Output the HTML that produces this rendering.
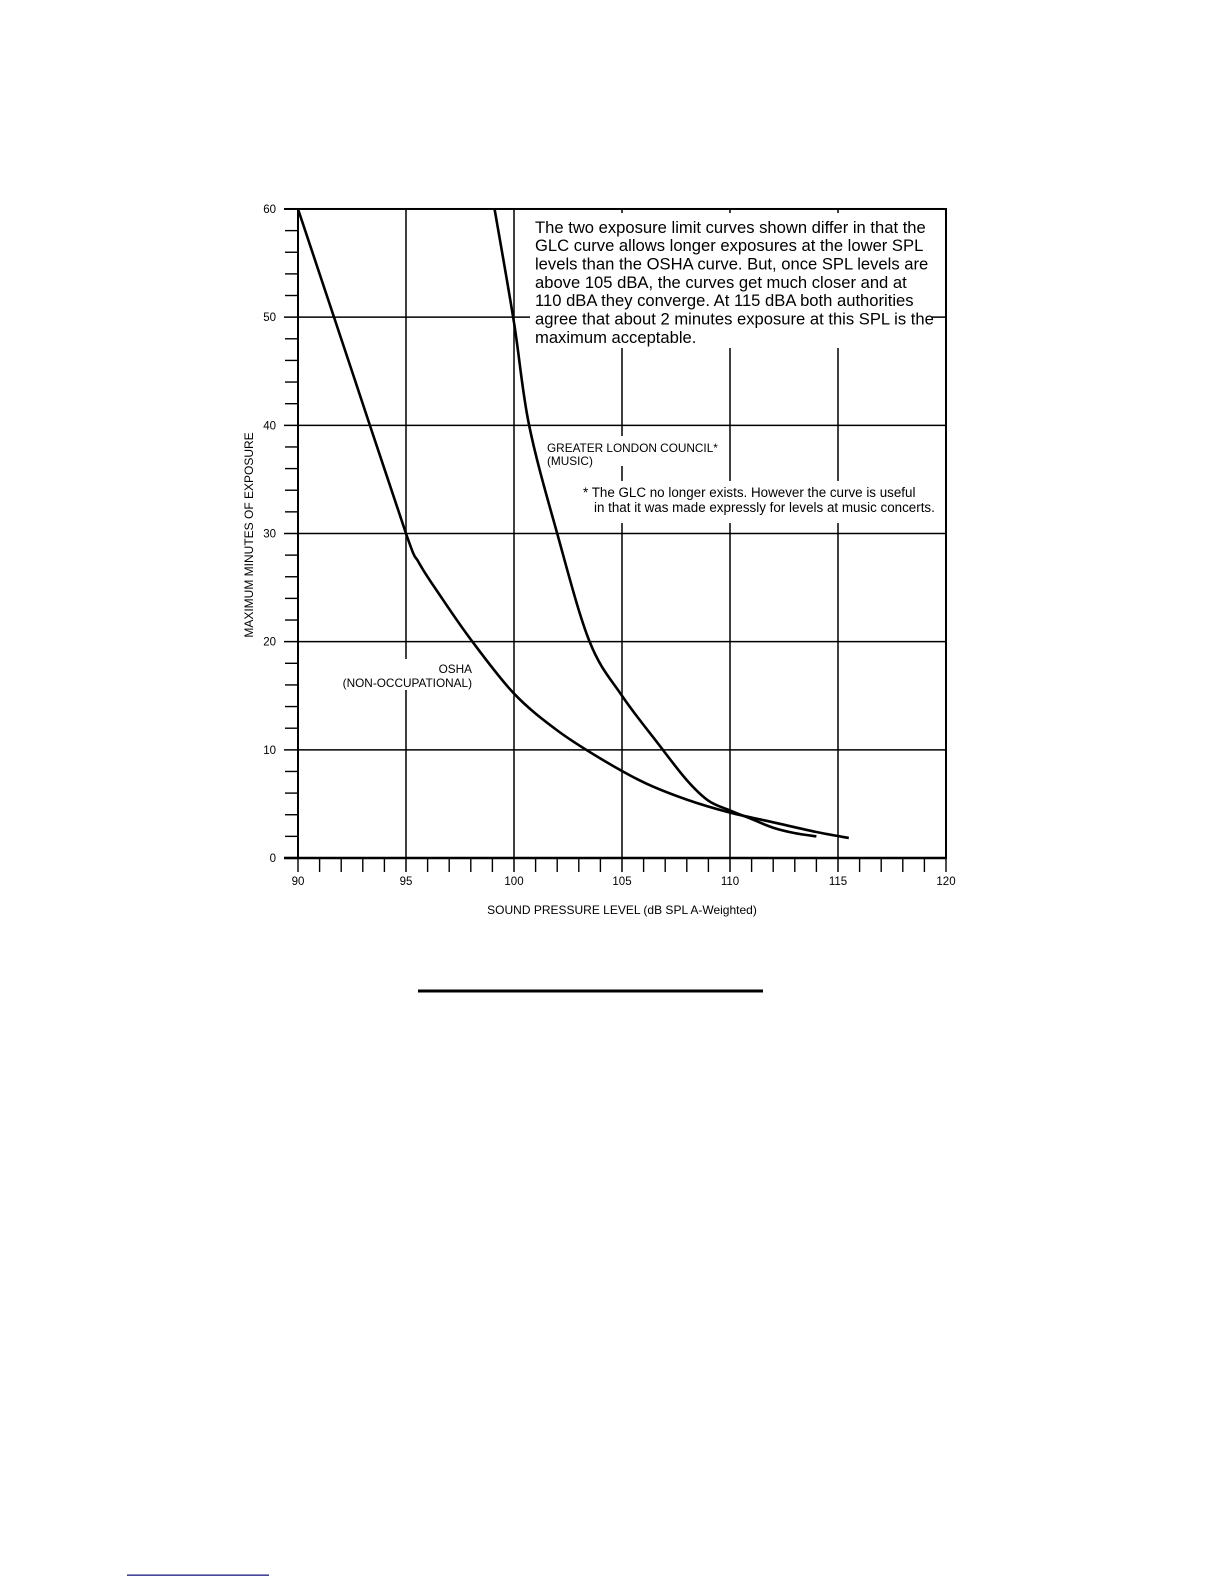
<!DOCTYPE html>
<html><head><meta charset="utf-8"><style>
html,body{margin:0;padding:0;background:#fff;}
svg{display:block;}
text{font-family:"Liberation Sans",Arial,sans-serif;fill:#000;}
</style></head><body>
<svg id="s" width="1224" height="1584" viewBox="0 0 1224 1584" xmlns="http://www.w3.org/2000/svg">
<rect width="1224" height="1584" fill="#fff"/>
<g id="grid" stroke="#000" stroke-width="1.5" fill="none"></g>
<g id="curves" stroke="#000" stroke-width="2.6" fill="none"></g>
<rect x="530" y="213" width="402" height="135" fill="#fff"/>
<rect x="544" y="436" width="181" height="30" fill="#fff"/>
<rect x="578" y="481" width="362" height="42" fill="#fff"/>
<rect x="336" y="659" width="137" height="31" fill="#fff"/>
<g font-size="16.6">
<text x="535" y="233">The two exposure limit curves shown differ in that the</text>
<text x="535" y="251">GLC curve allows longer exposures at the lower SPL</text>
<text x="535" y="269.5">levels than the OSHA curve.  But, once SPL levels are</text>
<text x="535" y="288">above 105 dBA, the curves get much closer and at</text>
<text x="535" y="306">110 dBA they converge. At 115 dBA both authorities</text>
<text x="535" y="324.5">agree that about 2 minutes exposure at this SPL is the</text>
<text x="535" y="343">maximum acceptable.</text>
</g>
<g font-size="11.8">
<text x="547" y="452">GREATER LONDON COUNCIL*</text>
<text x="547" y="465">(MUSIC)</text>
<text x="472" y="673" text-anchor="end">OSHA</text>
<text x="472" y="687" text-anchor="end">(NON-OCCUPATIONAL)</text>
</g>
<g font-size="13.4">
<text x="583" y="497">* The GLC no longer exists. However the curve is useful</text>
<text x="594" y="512">in that it was made expressly for levels at music concerts.</text>
</g>
<g id="labels" font-size="11.5"></g>
<text x="622" y="914" font-size="12" text-anchor="middle">SOUND PRESSURE LEVEL (dB SPL A-Weighted)</text>
<text transform="translate(253,535) rotate(-90)" font-size="12" text-anchor="middle">MAXIMUM MINUTES OF EXPOSURE</text>
<rect x="418" y="989.5" width="345" height="3" fill="#000"/>
<rect x="127" y="1574.5" width="142" height="1.3" fill="#1a1a80"/>
</svg>
<script>
var NS="http://www.w3.org/2000/svg";
function X(d){return 298+(d-90)*21.6;}
function Y(m){return 858-m*10.817;}
function add(g,tag,a){var e=document.createElementNS(NS,tag);for(var k in a)e.setAttribute(k,a[k]);document.getElementById(g).appendChild(e);return e;}
var x0=X(90),x1=X(120),y0=Y(0),y1=Y(60);
add("grid","rect",{x:x0,y:y1,width:x1-x0,height:y0-y1,"stroke-width":2});
add("grid","line",{x1:x0,y1:y0,x2:x1,y2:y0,"stroke-width":2.6});
for(var m=10;m<60;m+=10)add("grid","line",{x1:x0-14,y1:Y(m),x2:x1,y2:Y(m)});
for(var d=95;d<120;d+=5)add("grid","line",{x1:X(d),y1:y1,x2:X(d),y2:y0+14});
for(var m=0;m<=60;m+=2)if(m%10)add("grid","line",{x1:x0-13,y1:Y(m),x2:x0,y2:Y(m),"stroke-width":1.4});
add("grid","line",{x1:x0-14,y1:Y(0),x2:x0,y2:Y(0),"stroke-width":2.6});
add("grid","line",{x1:x0-14,y1:Y(60),x2:x0,y2:Y(60),"stroke-width":2});
for(var d=90;d<=120;d++)if(d%5||d==90||d==120)add("grid","line",{x1:X(d),y1:y0,x2:X(d),y2:y0+14,"stroke-width":1.4});
for(var m=0;m<=60;m+=10){var t=add("labels","text",{x:276,y:Y(m)+4,"text-anchor":"end"});t.textContent=m;}
for(var d=90;d<=120;d+=5){var t=add("labels","text",{x:X(d),y:885,"text-anchor":"middle"});t.textContent=d;}
function path(pts){var P=pts.map(function(p){return [X(p[0]),Y(p[1])];});
 var s="M"+P[0][0]+","+P[0][1];
 for(var i=0;i<P.length-1;i++){var p0=P[Math.max(i-1,0)],p1=P[i],p2=P[i+1],p3=P[Math.min(i+2,P.length-1)];
  s+=" C"+(p1[0]+(p2[0]-p0[0])/6)+","+(p1[1]+(p2[1]-p0[1])/6)+" "+(p2[0]-(p3[0]-p1[0])/6)+","+(p2[1]-(p3[1]-p1[1])/6)+" "+p2[0]+","+p2[1];}
 return s;}
var osha=[[90,60],[92.5,45],[95,30],[95.6,27.3],[96.5,24.5],[98,20.2],[100,15.2],[102,11.8],[104,9.2],[106,7],[108,5.4],[110,4.2],[112,3.3],[114,2.4],[115.5,1.85]];
var glc=[[99.1,60],[100,49.5],[100.7,40],[102,30],[103.5,20],[105,15],[106.7,10.5],[108,7.2],[109,5.3],[110,4.4],[111,3.6],[112,2.8],[113,2.3],[114,2.0]];
add("curves","path",{d:path(osha)});
add("curves","path",{d:path(glc)});
</script>
</body></html>
